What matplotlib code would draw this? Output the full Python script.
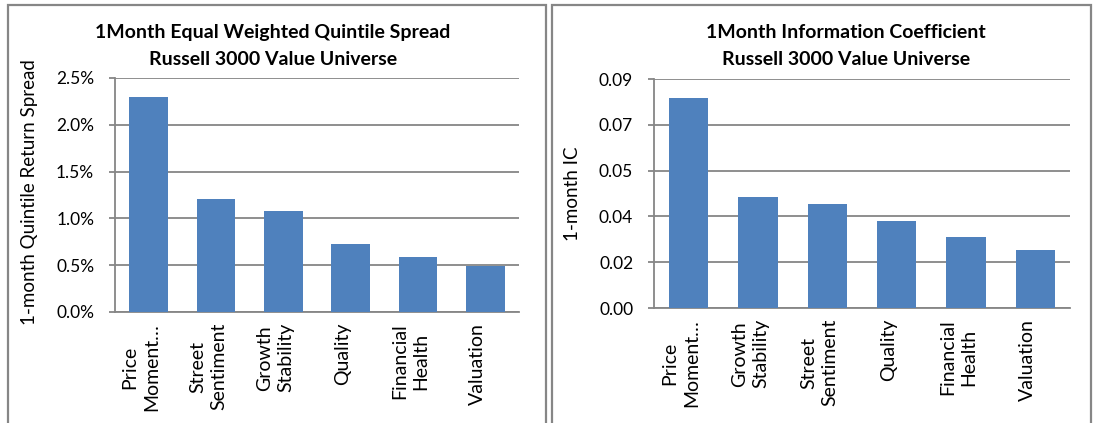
import matplotlib
matplotlib.use("Agg")
import matplotlib.pyplot as plt
from matplotlib.patches import Rectangle
from matplotlib.transforms import ScaledTranslation

# Left panel: equal-weighted quintile spread (in %)
spread_factors = ["Price\nMoment…", "Street\nSentiment", "Growth\nStability",
                  "Quality", "Financial\nHealth", "Valuation"]
spread_values = [2.30, 1.21, 1.08, 0.73, 0.59, 0.49]
spread_ticks = [0.0, 0.5, 1.0, 1.5, 2.0, 2.5]
spread_tick_labels = ["0.0%", "0.5%", "1.0%", "1.5%", "2.0%", "2.5%"]

# Right panel: information coefficient
ic_factors = ["Price\nMoment…", "Growth\nStability", "Street\nSentiment",
              "Quality", "Financial\nHealth", "Valuation"]
ic_values = [0.0802, 0.0424, 0.0397, 0.0332, 0.0271, 0.0222]
ic_ticks = [0.0, 0.0175, 0.035, 0.0525, 0.07, 0.0875]
ic_tick_labels = ["0.00", "0.02", "0.04", "0.05", "0.07", "0.09"]

BAR = "#4F81BD"
GRID = "#868686"
W, H = 1101, 423

plt.rcParams["font.family"] = ["Lato", "DejaVu Sans"]

fig = plt.figure(figsize=(W / 100, H / 100), dpi=100)


def px_rect(x0, y0, x1, y1):
    # pixel box (top-left origin) -> figure fraction [left, bottom, width, height]
    return [x0 / W, 1 - y1 / H, (x1 - x0) / W, (y1 - y0) / H]


def bar_panel(rect, factors, values, ticks, tick_labels):
    ax = fig.add_axes(rect)
    x = range(len(factors))
    ax.bar(x, values, width=0.57, color=BAR, zorder=3)
    ax.set_xlim(-0.5, len(factors) - 0.5)
    ax.set_ylim(ticks[0], ticks[-1])
    ax.set_yticks(ticks)
    ax.set_yticklabels(tick_labels)
    ax.set_xticks(list(x))
    ax.set_xticklabels(factors, rotation=90, ha="center", va="top",
                       multialignment="center", linespacing=1.3)
    ax.grid(axis="y", color=GRID, linewidth=1.3, zorder=0)
    for side in ("top", "right"):
        ax.spines[side].set_visible(False)
    for side in ("left", "bottom"):
        ax.spines[side].set_color(GRID)
        ax.spines[side].set_linewidth(1.3)
    ax.tick_params(axis="y", length=4, width=1.3, color=GRID, pad=11,
                   labelsize=12.5)
    ax.tick_params(axis="x", length=0, pad=8, labelsize=14)
    shift = ScaledTranslation(-8 / 100, 0, fig.dpi_scale_trans)
    for lab in ax.get_xticklabels():
        lab.set_transform(lab.get_transform() + shift)
    return ax


# chart area borders
for x0, x1 in ((8, 546), (552, 1091)):
    fig.patches.append(Rectangle((x0 / W, -0.05), (x1 - x0) / W, 1 - 5 / H + 0.05,
                                 transform=fig.transFigure, fill=False,
                                 edgecolor=GRID, linewidth=1.6))

bar_panel(px_rect(115, 78, 519, 312), spread_factors, spread_values,
          spread_ticks, spread_tick_labels)
bar_panel(px_rect(654, 79, 1070, 308), ic_factors, ic_values,
          ic_ticks, ic_tick_labels)

fig.text(30 / W, 1 - 192 / H, "1-month Quintile Return Spread", rotation=90,
         ha="center", va="center", fontsize=13.5)
fig.text(573 / W, 1 - 194 / H, "1-month IC", rotation=90,
         ha="center", va="center", fontsize=13.5)

fig.text(273 / W, 1 - 46 / H,
         "1Month Equal Weighted Quintile Spread\nRussell 3000 Value Universe",
         ha="center", va="center", fontsize=14, fontweight="bold",
         linespacing=1.7)
fig.text(846 / W, 1 - 46 / H,
         "1Month Information Coefficient\nRussell 3000 Value Universe",
         ha="center", va="center", fontsize=14, fontweight="bold",
         linespacing=1.7)

fig.savefig("out.png", dpi=100)
